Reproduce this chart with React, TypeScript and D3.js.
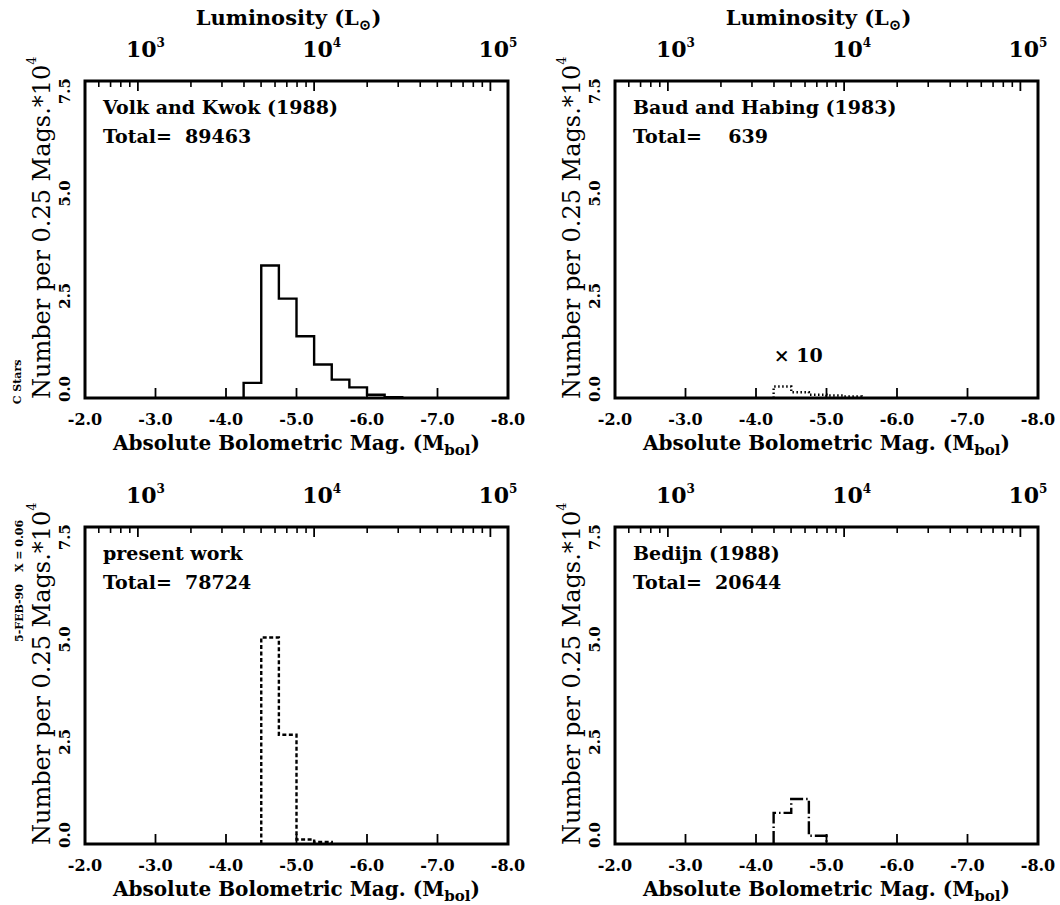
import React from 'react';
import * as d3 from 'd3';

const W = 1060;
const H = 905;
const FONT = '"DejaVu Serif", serif';

// ---------- data ----------
const magTicks = [-2, -3, -4, -5, -6, -7, -8];
const magTickLabels = ['-2.0', '-3.0', '-4.0', '-5.0', '-6.0', '-7.0', '-8.0'];
const yTicks = [0, 2.5, 5, 7.5];
const yTickLabels = ['0.0', '2.5', '5.0', '7.5'];
const lumMajor = [1e3, 1e4, 1e5];
const lumMajorExp = ['3', '4', '5'];
const lumMinor = [6e2, 7e2, 8e2, 9e2, 2e3, 3e3, 4e3, 5e3, 6e3, 7e3, 8e3, 9e3, 2e4, 3e4, 4e4, 5e4, 6e4, 7e4, 8e4, 9e4];
const MBOL_SUN = 4.75;
const BIN = 0.25;

const panelTitles = ['Volk and Kwok (1988)', 'Baud and Habing (1983)', 'present work', 'Bedijn (1988)'];
const panelTotals = ['Total=  89463', 'Total=    639', 'Total=  78724', 'Total=  20644'];
const binStarts = [-4.25, -4.25, -4.5, -4.25];
const volkKwok = [0.37, 3.24, 2.43, 1.51, 0.82, 0.45, 0.26, 0.08, 0.02];
const baudHabingX10 = [0.28, 0.14, 0.08, 0.06, 0.04];
const presentWork = [5.05, 2.67, 0.11, 0.05];
const bedijn = [0.76, 1.1, 0.2];
const seriesValues = [volkKwok, baudHabingX10, presentWork, bedijn];
const dashStyles = ['none', '1.5,2.5', '4,2.5', '13,3,1.5,3'];

// ---------- layout ----------
const PW = 423;
const PH = 317;
const panelPos = [
  [85, 81],
  [615, 81],
  [85, 527],
  [615, 527],
];

function Panel({ idx }: { idx: number }) {
  const [x0, y0] = panelPos[idx];
  const xs = d3.scaleLinear().domain([-2, -8]).range([x0, x0 + PW]);
  const ys = d3.scaleLinear().domain([0, 7.75]).range([y0 + PH, y0]);
  const lumToMag = (L: number) => MBOL_SUN - 2.5 * Math.log10(L);
  const vals = seriesValues[idx];
  const start = binStarts[idx];
  const pts: [number, number][] = [];
  vals.forEach((v, i) => {
    const a = start - i * BIN;
    const b = start - (i + 1) * BIN;
    if (i === 0) pts.push([a, 0]);
    pts.push([a, v]);
    pts.push([b, v]);
  });
  pts.push([start - vals.length * BIN, 0]);
  const line = d3
    .line<[number, number]>()
    .x((d) => xs(d[0]))
    .y((d) => ys(d[1]));
  const bottom = y0 + PH;
  const isTop = idx < 2;
  return (
    <g>
      {magTicks.slice(1, -1).map((m) => (
        <line key={'bt' + m} x1={xs(m)} x2={xs(m)} y1={bottom} y2={bottom - 10} stroke="#000" strokeWidth={1.8} />
      ))}
      {lumMinor.map((L) => (
        <line key={'tm' + L} x1={xs(lumToMag(L))} x2={xs(lumToMag(L))} y1={y0} y2={y0 + 6} stroke="#000" strokeWidth={1.6} />
      ))}
      {lumMajor.map((L) => (
        <line key={'tM' + L} x1={xs(lumToMag(L))} x2={xs(lumToMag(L))} y1={y0} y2={y0 + 10} stroke="#000" strokeWidth={1.8} />
      ))}
      <path d={line(pts) || ''} fill="none" stroke="#000" strokeWidth={2.4} strokeDasharray={dashStyles[idx]} />
      <rect x={x0} y={y0} width={PW} height={PH} fill="none" stroke="#000" strokeWidth={3} />
      {magTicks.map((m, i) => (
        <text key={'bl' + m} x={xs(m)} y={bottom + 27} textAnchor="middle" fontSize={16} fontWeight="bold" fontFamily={FONT}>
          {magTickLabels[i]}
        </text>
      ))}
      <text x={x0 + PW / 2} y={bottom + 52} textAnchor="middle" fontSize={20} fontWeight="bold" fontFamily={FONT}>
        Absolute Bolometric Mag. (M
        <tspan fontSize={15} dy={5}>bol</tspan>
        <tspan dy={-5}>)</tspan>
      </text>
      {lumMajor.map((L, i) => (
        <text key={'tl' + L} x={xs(lumToMag(L)) - 12} y={y0 - 24} fontSize={22} fontWeight="bold" fontFamily={FONT}>
          10<tspan fontSize={12} dy={-10}>{lumMajorExp[i]}</tspan>
        </text>
      ))}
      {isTop && (
        <text x={x0 + PW / 2 - 8} y={y0 - 56} textAnchor="middle" fontSize={21} fontWeight="bold" fontFamily={FONT}>
          Luminosity (L<tspan fontSize={15} dy={5}>⊙</tspan>
          <tspan dy={-5}>)</tspan>
        </text>
      )}
      {yTicks.map((v, i) => {
        const yy = Math.min(ys(v), bottom - 9);
        return (
          <text
            key={'yl' + v}
            transform={`translate(${x0 - 20},${yy}) rotate(-90)`}
            textAnchor="middle"
            dominantBaseline="central"
            fontSize={15}
            fontWeight="bold"
            fontFamily={FONT}
          >
            {yTickLabels[i]}
          </text>
        );
      })}
      <text
        transform={`translate(${x0 - 43},${bottom + 1}) rotate(-90)`}
        dominantBaseline="central"
        fontSize={24}
        fontFamily={FONT}
      >
        Number per 0.25 Mags.*10<tspan fontSize={13} dy={-11}>4</tspan>
      </text>
      <text x={x0 + 18} y={y0 + 33} fontSize={19} fontWeight="bold" fontFamily={FONT}>
        {panelTitles[idx]}
      </text>
      <text x={x0 + 18} y={y0 + 62} fontSize={19} fontWeight="bold" fontFamily={FONT} style={{ whiteSpace: 'pre' }}>
        {panelTotals[idx]}
      </text>
      {idx === 1 && (
        <text x={xs(-4.25)} y={ys(1.05)} fontSize={19} fontWeight="bold" fontFamily={FONT} dominantBaseline="central">
          × 10
        </text>
      )}
    </g>
  );
}

export default function App() {
  return (
    <svg width={W} height={H} style={{ position: 'absolute', left: 0, top: 0, background: '#fff' }}>
      <rect x={0} y={0} width={W} height={H} fill="#fff" />
      {[0, 1, 2, 3].map((i) => (
        <Panel key={i} idx={i} />
      ))}
      <text transform="translate(17,382) rotate(-90)" textAnchor="middle" dominantBaseline="central" fontSize={11} fontWeight="bold" fontFamily={FONT}>
        C Stars
      </text>
      <text transform="translate(19,546) rotate(-90)" textAnchor="middle" dominantBaseline="central" fontSize={11} fontWeight="bold" fontFamily={FONT}>
        X = 0.06
      </text>
      <text transform="translate(19,613) rotate(-90)" textAnchor="middle" dominantBaseline="central" fontSize={11} fontWeight="bold" fontFamily={FONT}>
        5-FEB-90
      </text>
    </svg>
  );
}
